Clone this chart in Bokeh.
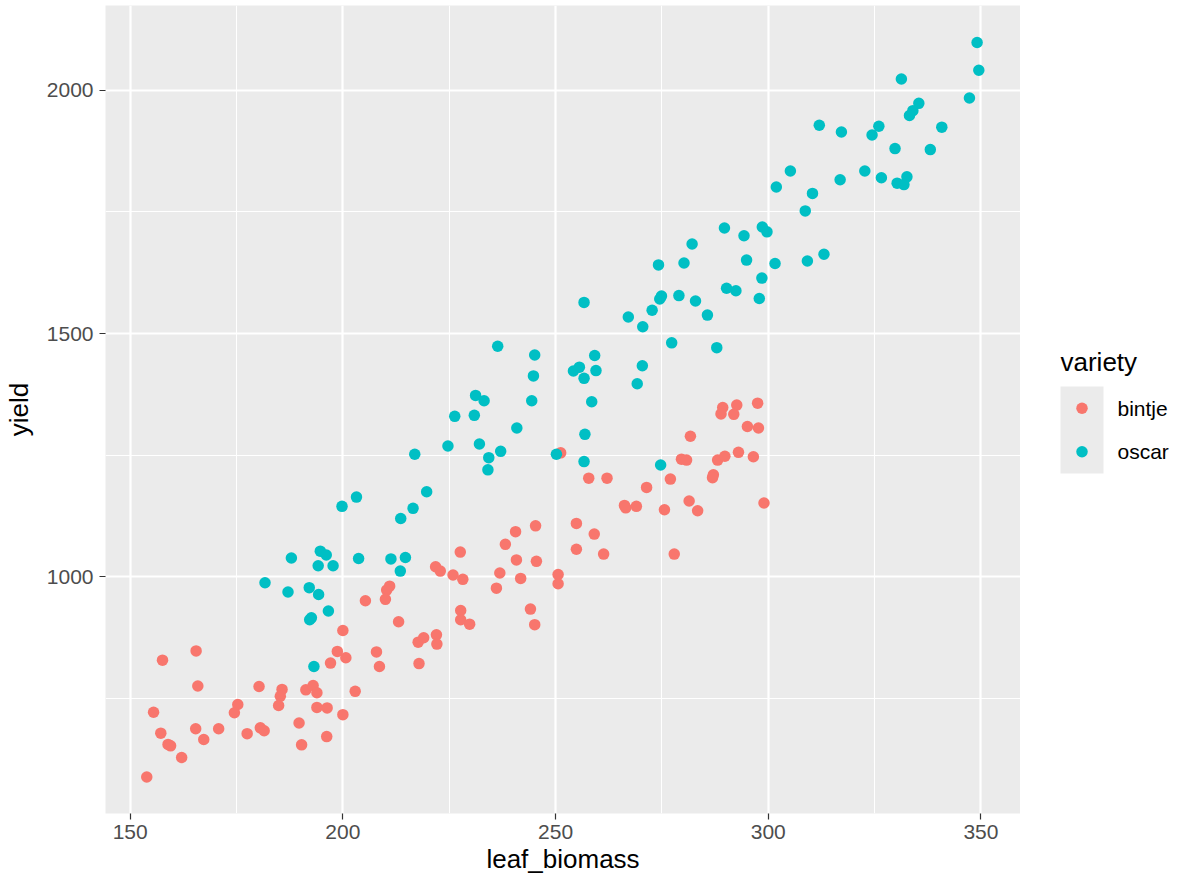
from bokeh.plotting import figure
from bokeh.layouts import row
from bokeh.models import FixedTicker, Range1d
from bokeh.core.properties import value
from bokeh.embed import file_html
from bokeh.resources import INLINE

# leaf biomass vs. yield, two potato varieties
bintje_x = [211.0, 210.3, 210.0, 205.3, 213.1, 200.0, 217.7, 217.9, 198.7, 200.7,
            207.9, 208.6, 197.1, 157.6, 165.5, 165.9, 180.3, 185.7, 185.3, 184.9,
            191.3, 193.0, 193.9, 202.9, 175.3, 174.5, 155.5, 193.9, 196.3, 200.0,
            157.2, 165.4, 170.8, 167.3, 158.9, 159.5, 162.1, 153.9, 177.5, 180.6,
            181.5, 189.7, 196.2, 190.3, 227.6, 238.2, 254.9, 261.3, 277.9, 221.8,
            222.9, 225.9, 228.2, 236.9, 240.8, 245.5, 241.8, 236.1, 250.6, 250.6,
            227.7, 227.7, 229.8, 244.1, 245.1, 219.0, 222.0, 222.1, 281.7, 279.6,
            280.8, 257.8, 262.1, 271.4, 277.0, 266.2, 266.5, 269.0, 275.6, 281.4,
            283.4, 254.9, 259.1, 245.3, 240.6, 251.2, 289.3, 288.9, 292.6, 291.9,
            297.5, 295.1, 297.7, 288.1, 289.8, 293.0, 296.5, 287.1, 286.9, 299.0]
bintje_y = [981, 973, 954, 951, 908, 890, 866, 822, 847, 834,
            846, 816, 823, 829, 848, 776, 775, 769, 755, 736,
            768, 777, 762, 765, 738, 721, 722, 732, 731, 717,
            679, 688, 688, 666, 656, 653, 629, 589, 678, 690,
            684, 700, 672, 655, 1051, 1067, 1057, 1047, 1047, 1021,
            1012, 1004, 995, 1008, 1035, 1032, 997, 977, 1005, 986,
            931, 912, 903, 934, 902, 875, 881, 862, 1289, 1242,
            1240, 1203, 1203, 1184, 1201, 1147, 1142, 1145, 1138, 1156,
            1136, 1110, 1088, 1105, 1093, 1255, 1348, 1335, 1353, 1334,
            1357, 1309, 1306, 1240, 1248, 1256, 1247, 1210, 1204, 1152]

oscar_x = [187.9, 194.7, 196.1, 194.2, 197.7, 203.7, 211.3, 214.7, 213.5, 181.7,
           187.1, 192.1, 194.3, 196.6, 192.2, 192.6, 193.2, 203.2, 199.8, 213.6,
           256.7, 267.1, 270.5, 272.7, 274.5, 274.9, 279.0, 282.9, 285.7, 277.3,
           236.4, 245.1, 244.8, 244.4, 259.2, 254.2, 255.6, 259.5, 256.7, 270.4,
           269.2, 258.5, 231.2, 233.2, 226.3, 230.9, 240.9, 256.9, 224.7, 232.1,
           237.1, 234.3, 234.1, 216.9, 250.2, 256.7, 274.7, 219.7, 216.5, 297.9,
           287.9, 349.1, 349.5, 347.3, 331.3, 335.4, 334.0, 333.2, 340.8, 338.1,
           329.8, 326.0, 324.4, 312.0, 317.2, 305.2, 301.9, 310.4, 308.7, 316.9,
           322.7, 326.6, 330.3, 331.9, 332.6, 289.7, 294.3, 298.6, 299.7, 294.9,
           301.6, 309.2, 313.1, 298.5, 290.2, 292.4, 282.1, 274.2, 280.2]
oscar_y = [1039, 1053, 1045, 1023, 1023, 1038, 1037, 1040, 1012, 988,
           969, 978, 964, 930, 912, 916, 816, 1164, 1145, 1120,
           1564, 1534, 1514, 1548, 1571, 1577, 1578, 1567, 1538, 1481,
           1474, 1456, 1413, 1362, 1455, 1423, 1431, 1424, 1408, 1434,
           1397, 1360, 1373, 1362, 1330, 1332, 1306, 1293, 1269, 1273,
           1258, 1245, 1220, 1252, 1252, 1237, 1230, 1175, 1141, 1572,
           1471, 2098, 2041, 1984, 2023, 1973, 1958, 1948, 1924, 1878,
           1880, 1926, 1908, 1928, 1914, 1834, 1801, 1788, 1752, 1816,
           1834, 1820, 1809, 1806, 1822, 1717, 1701, 1719, 1709, 1651,
           1644, 1649, 1663, 1614, 1593, 1588, 1684, 1641, 1645]

varieties = ["bintje", "oscar"]
colors = ["#F8766D", "#00BFC4"]

x_ticks = [150, 200, 250, 300, 350]
x_minor = [175, 225, 275, 325]
y_ticks = [1000, 1500, 2000]
y_minor = [750, 1250, 1750]

FONT = "Liberation Sans"
DOT = 11.5

p = figure(frame_width=915, frame_height=808,
           min_border_left=105, min_border_right=0,
           min_border_top=5, min_border_bottom=67,
           x_range=Range1d(144.2, 359.3), y_range=Range1d(514, 2174),
           output_backend="svg", toolbar_location=None,
           background_fill_color="#EBEBEB", border_fill_color="white")
p.outline_line_color = None

for axis, ticks, minor in ((p.xaxis, x_ticks, x_minor), (p.yaxis, y_ticks, y_minor)):
    axis.ticker = FixedTicker(ticks=ticks, minor_ticks=minor)
    axis.axis_line_color = None
    axis.major_tick_line_color = "#333333"
    axis.major_tick_line_width = 1.2
    axis.major_tick_out = 6
    axis.major_tick_in = 0
    axis.minor_tick_line_color = None
    axis.major_label_text_font = FONT
    axis.major_label_text_font_size = "21px"
    axis.major_label_text_color = "#4D4D4D"
    axis.axis_label_text_font = FONT
    axis.axis_label_text_font_size = "26px"
    axis.axis_label_text_font_style = "normal"
    axis.axis_label_text_color = "black"

p.xaxis.axis_label = "leaf_biomass"
p.yaxis.axis_label = "yield"
p.xaxis.major_label_standoff = 5
p.xaxis.axis_label_standoff = 2
p.yaxis.major_label_standoff = 6
p.yaxis.axis_label_standoff = 10

for g in (p.xgrid, p.ygrid):
    g.grid_line_color = "white"
    g.grid_line_width = 2.2
    g.minor_grid_line_color = "white"
    g.minor_grid_line_width = 1.1
p.xgrid.ticker = FixedTicker(ticks=x_ticks, minor_ticks=x_minor)
p.ygrid.ticker = FixedTicker(ticks=y_ticks, minor_ticks=y_minor)

p.scatter(bintje_x, bintje_y, size=DOT, fill_color=colors[0], line_color=None)
p.scatter(oscar_x, oscar_y, size=DOT, fill_color=colors[1], line_color=None)

# legend panel to the right of the plot, one data unit per pixel (y up from bottom)
lg = figure(frame_width=157, frame_height=880, min_border=0,
            x_range=Range1d(0, 157), y_range=Range1d(0, 880),
            x_axis_type=None, y_axis_type=None,
            output_backend="svg", toolbar_location=None,
            background_fill_color="white", border_fill_color="white")
lg.outline_line_color = None
lg.grid.visible = False

lg.text([40], [880 - 356], text=["variety"], text_font=value(FONT),
        text_font_size="26px", text_color="black", text_baseline="middle")
lg.quad(left=[40], right=[83], top=[880 - 381], bottom=[880 - 468],
        fill_color="#EBEBEB", line_color=None)
key_y = [880 - 402.75, 880 - 446.25]
lg.scatter([61.5, 61.5], key_y, size=DOT, fill_color=colors, line_color=None)
lg.text([97, 97], key_y, text=varieties, text_font=value(FONT),
        text_font_size="21px", text_color="black", text_baseline="middle")

layout = row(p, lg)
open("out.html", "w").write(file_html(layout, INLINE))
